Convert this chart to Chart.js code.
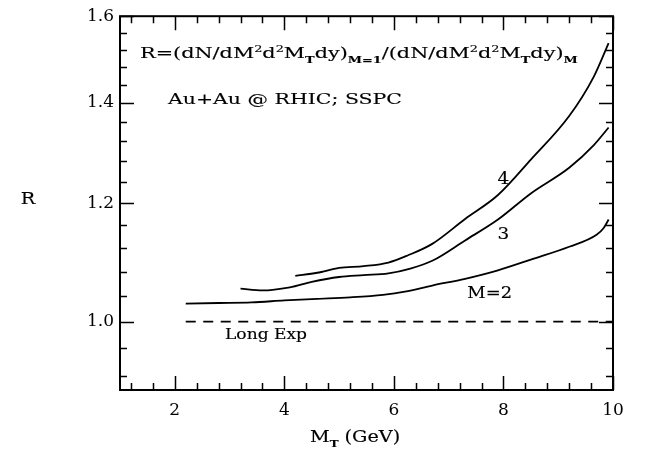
<!DOCTYPE html>
<html>
<head>
<meta charset="utf-8">
<script src="https://cdn.jsdelivr.net/npm/chart.js@4/dist/chart.umd.min.js"></script>
<style>
    html, body { margin: 0; padding: 0; background: #fff; }
    #wrap { width: 647px; height: 451px; }
</style>
</head>
<body>
<div id="wrap"><canvas id="chart" width="647" height="451"></canvas></div>
<script>
// curve M=2
var mt2 = [2.2, 2.8, 3.4, 4.0, 4.6, 5.2, 5.8, 6.2, 6.7, 7.3, 7.9, 8.5, 9.2, 9.7, 9.83, 9.92];
var r2 = [1.028, 1.029, 1.030, 1.033, 1.0355, 1.038, 1.042, 1.047, 1.057, 1.068, 1.082, 1.100, 1.122, 1.143, 1.155, 1.170];
// curve M=3
var mt3 = [3.2, 3.6, 4.1, 4.5, 5.0, 5.45, 5.9, 6.3, 6.7, 7.3, 7.9, 8.5, 9.2, 9.65, 9.92];
var r3 = [1.052, 1.049, 1.054, 1.063, 1.071, 1.074, 1.077, 1.085, 1.098, 1.133, 1.170, 1.218, 1.267, 1.312, 1.348];
// curve M=4
var mt4 = [4.2, 4.6, 5.0, 5.45, 5.9, 6.25, 6.7, 7.3, 7.9, 8.5, 9.2, 9.65, 9.92];
var r4 = [1.073, 1.078, 1.086, 1.089, 1.095, 1.107, 1.127, 1.171, 1.215, 1.283, 1.372, 1.458, 1.535];
// long expansion reference
var mtLong = [2.2, 10];
var rLong = [1.0, 1.0];

// axes
var xMajor = [2, 4, 6, 8, 10];
var xMinor = [1.2, 1.6, 2.4, 2.8, 3.2, 3.6, 4.4, 4.8, 5.2, 5.6, 6.4, 6.8, 7.2, 7.6, 8.4, 8.8, 9.2, 9.6];
var yMajor = [1.0, 1.2, 1.4, 1.6];
var yMinor = [0.92, 0.96, 1.04, 1.08, 1.12, 1.16, 1.24, 1.28, 1.32, 1.36, 1.44, 1.48, 1.52, 1.56];

var FONT = '"DejaVu Serif", "Liberation Serif", serif';

function pts(xs, ys) {
    return xs.map(function (x, i) { return {x: x, y: ys[i]}; });
}

function curve(xs, ys, dash) {
    return {
        data: pts(xs, ys),
        borderColor: '#000',
        borderWidth: 1.8,
        borderDash: dash || [],
        pointRadius: 0,
        fill: false,
        cubicInterpolationMode: 'monotone'
    };
}

// draws text made of normal / sup / sub runs, stretched sideways by sx
function richText(ctx, x, y, runs, size, sx) {
    ctx.save();
    ctx.translate(x, y);
    ctx.scale(sx || 1, 1);
    ctx.lineWidth = 0.15;
    ctx.strokeStyle = '#000';
    var cx = 0;
    runs.forEach(function (r) {
        var s = size, dy = 0, w = 'normal';
        if (r[1] === 'sup') { s = size * 0.62; dy = -size * 0.4; }
        if (r[1] === 'sub') { s = size * 0.62; dy = size * 0.3; w = 'bold'; }
        ctx.font = w + ' ' + s + 'px ' + FONT;
        ctx.fillText(r[0], cx, dy);
        ctx.strokeText(r[0], cx, dy);
        cx += ctx.measureText(r[0]).width;
    });
    ctx.restore();
}

var frame = {
    id: 'frame',
    afterDraw: function (chart) {
        var ctx = chart.ctx, a = chart.chartArea;
        var xs = chart.scales.x, ys = chart.scales.y;
        ctx.save();
        ctx.strokeStyle = '#000';
        ctx.lineWidth = 2;
        ctx.strokeRect(a.left, a.top, a.right - a.left, a.bottom - a.top);

        ctx.lineWidth = 1.5;
        ctx.beginPath();
        function xt(v, len) {
            var p = Math.round(xs.getPixelForValue(v)) + 0.5;
            ctx.moveTo(p, a.bottom); ctx.lineTo(p, a.bottom - len);
            ctx.moveTo(p, a.top); ctx.lineTo(p, a.top + len);
        }
        function yt(v, len) {
            var p = Math.round(ys.getPixelForValue(v)) + 0.5;
            ctx.moveTo(a.left, p); ctx.lineTo(a.left + len, p);
            ctx.moveTo(a.right, p); ctx.lineTo(a.right - len, p);
        }
        xMajor.forEach(function (v) { xt(v, 14); });
        xMinor.forEach(function (v) { xt(v, 7); });
        yMajor.forEach(function (v) { yt(v, 14); });
        yMinor.forEach(function (v) { yt(v, 7); });
        ctx.stroke();

        ctx.fillStyle = '#000';
        ctx.textBaseline = 'alphabetic';
        ctx.textAlign = 'left';
        richText(ctx, 140, 58, [
            ['R=(dN/dM'], ['2', 'sup'], ['d'], ['2', 'sup'], ['M'], ['T', 'sub'], ['dy)'], ['M=1', 'sub'],
            ['/(dN/dM'], ['2', 'sup'], ['d'], ['2', 'sup'], ['M'], ['T', 'sub'], ['dy)'], ['M', 'sub']
        ], 15.5, 1.34);
        richText(ctx, 168, 104, [['Au+Au @ RHIC; SSPC']], 15.5, 1.32);

        ctx.textAlign = 'center';
        ctx.textBaseline = 'middle';
        richText(ctx, xs.getPixelForValue(8.0), ys.getPixelForValue(1.244), [['4']], 16, 1.15);
        richText(ctx, xs.getPixelForValue(8.0), ys.getPixelForValue(1.143), [['3']], 16, 1.15);
        richText(ctx, xs.getPixelForValue(7.75), ys.getPixelForValue(1.044), [['M=2']], 16, 1.12);
        richText(ctx, 28, 200, [['R']], 16, 1.2);

        ctx.textAlign = 'left';
        ctx.textBaseline = 'alphabetic';
        richText(ctx, 225, 339, [['Long Exp']], 14, 1.22);
        richText(ctx, 310, 442, [['M'], ['T', 'sub'], [' (GeV)']], 16, 1.2);
        ctx.restore();
    }
};

new Chart(document.getElementById('chart'), {
    type: 'line',
    data: {
        datasets: [
            curve(mt2, r2),
            curve(mt3, r3),
            curve(mt4, r4),
            curve(mtLong, rLong, [10, 7.5])
        ]
    },
    options: {
        responsive: false,
        animation: false,
        layout: {padding: {top: 8, right: 34, left: 0, bottom: 0}},
        plugins: {legend: {display: false}, tooltip: {enabled: false}},
        scales: {
            x: {
                type: 'linear',
                min: 1,
                max: 10,
                grid: {display: false, drawTicks: false},
                border: {display: false},
                afterBuildTicks: function (s) {
                    s.ticks = xMajor.map(function (v) { return {value: v}; });
                },
                afterFit: function (s) { s.height = 61; },
                ticks: {
                    color: '#000',
                    padding: 10,
                    maxRotation: 0,
                    font: {family: FONT, size: 17},
                    callback: function (v) { return String(v); }
                }
            },
            y: {
                type: 'logarithmic',
                min: 0.9,
                max: 1.6,
                grid: {display: false, drawTicks: false},
                border: {display: false},
                afterBuildTicks: function (s) {
                    s.ticks = yMajor.map(function (v) { return {value: v}; });
                },
                afterFit: function (s) { s.width = 120; },
                ticks: {
                    color: '#000',
                    padding: 6,
                    font: {family: FONT, size: 17},
                    callback: function (v) { return Number(v).toFixed(1); }
                }
            }
        }
    },
    plugins: [frame]
});
</script>
</body>
</html>
